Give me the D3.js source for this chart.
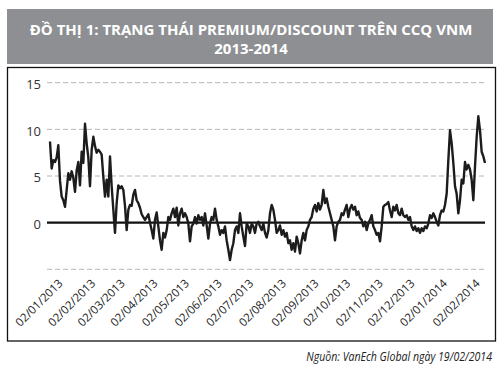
<!DOCTYPE html>
<html>
<head>
<meta charset="utf-8">
<script src="https://cdn.jsdelivr.net/npm/d3@7"></script>
<style>
  body { margin: 0; background: #fff; }
</style>
</head>
<body>
<div id="chart"></div>
<script>
const titleLines = ["ĐỒ THỊ 1: TRẠNG THÁI PREMIUM/DISCOUNT TRÊN CCQ VNM", "2013-2014"];
const sourceNote = "Nguồn: VanEch Global ngày 19/02/2014";

// first and last observation of the series
const firstDay = "2013-01-02";
const lastDay = "2014-02-19";

const yTicks = [-5, 0, 5, 10, 15];
const xTickDates = ["2013-01-02", "2013-02-02", "2013-03-02", "2013-04-02", "2013-05-02",
  "2013-06-02", "2013-07-02", "2013-08-02", "2013-09-02", "2013-10-02", "2013-11-02",
  "2013-12-02", "2014-01-02", "2014-02-02"];

const premium = [
  8.7, 5.8, 6.7, 6.5, 7.0, 8.3, 4.5, 2.8, 2.4, 1.7,
  3.5, 5.3, 4.6, 5.5, 4.8, 3.3, 5.6, 6.5, 4.0, 7.6,
  6.4, 10.6, 8.5, 7.0, 3.9, 7.8, 9.2, 8.2, 7.5, 7.8,
  7.6, 7.3, 4.9, 2.8, 4.6, 2.8, 7.1, 3.9, 1.4, -1.1,
  2.1, 4.0, 3.7, 3.9, 3.5, 1.8, -0.8, 1.4, 1.9, 1.8,
  3.0, 3.5, 2.4, 2.1, 1.6, 0.9, 0.6, 0.3, 0.6, 0.9,
  0.0, -0.8, -1.7, 0.3, 1.1, -0.4,
  -1.9, -2.9, -1.1, -1.6, -0.8, 0.6, 0.3, 1.0, 1.5, 0.6,
  1.6, -0.3, 1.0, 1.5, 0.6, 1.0, 0.6, -0.1, -2.0, -0.4,
  -0.1, 0.6, -0.1, 0.8, 0.3, 0.6, -0.3, 1.0, -0.3, -1.7,
  -0.1, 0.6, 0.3, 1.5, 0.3, -0.4, -1.3, -0.8, -1.1, -0.4,
  -1.9, -2.9, -4.0, -2.9, -2.2, -0.8, -0.4, -1.1, 1.0, -0.4,
  -1.5, -2.5, -0.1, -0.4, -1.1, -0.1, -0.4, -1.1, -0.1, 0.1,
  -0.4, -0.8, -0.1, -1.1, -1.6, -0.8,
  1.0, 1.9, 1.4, 0.3, -1.1, -0.8, -0.3, -1.3, -0.8, -1.5,
  -1.1, -2.2, -1.9, -2.9, -2.2, -3.1, -1.5, -2.2, -3.3, -1.9,
  -1.1, -1.9, -0.8, -0.4, 0.3, 0.6, 1.5, 1.9, 1.2, 2.1,
  1.4, 1.9, 3.5, 2.1, 2.6, 1.7, 1.0, 0.3, -0.4, -1.9,
  -0.4, 0.1, 0.3, 1.0, 0.8, 1.4, 1.9, 0.6, 1.5, 1.9,
  1.4, 1.7, 0.8, 1.2, 0.5, 0.3, -0.4, 0.1, -0.8, -0.1,
  0.3, 0.8, -0.4, -0.8, -1.3, -1.1,
  -2.0, -0.4, 1.7, 1.9, 2.0, 2.2, 1.3, 0.6, 1.7, 1.3,
  1.9, 1.0, 0.8, 1.5, 0.8, 0.6, 0.8, 0.3, 0.6, -0.4,
  -0.8, -0.4, -0.9, -0.6, -1.1, -0.6, -0.9, -0.4, -0.6, -0.1,
  0.8, 0.5, 1.0, 0.6, 0.1, -0.3, 0.8, 1.3, 1.2, 1.9,
  3.1, 6.7, 9.9, 8.5, 6.4, 3.9, 3.1, 1.0, 2.4, 4.6,
  4.2, 6.5, 5.7, 6.2, 5.7, 4.6, 2.4, 6.0, 9.2, 11.4,
  9.9, 7.6, 7.1, 6.4
];

const width = 504;
const height = 376;
const plot = {left: 50, right: 485, top: 82.7, bottom: 269.3};

const parseDay = d3.timeParse("%Y-%m-%d");
const formatDay = d3.timeFormat("%d/%m/%Y");

const t0 = parseDay(firstDay).getTime();
const t1 = parseDay(lastDay).getTime();
const data = premium.map((v, i) => ({
  date: new Date(t0 + (t1 - t0) * i / (premium.length - 1)),
  value: v
}));

const svg = d3.select("#chart")
  .append("svg")
  .attr("width", width)
  .attr("height", height)
  .style("font-family", "'Open Sans', 'Noto Sans', sans-serif");

// title band
svg.append("rect")
  .attr("x", 7)
  .attr("y", 9)
  .attr("width", 486)
  .attr("height", 55)
  .attr("fill", "#8e8f93");

// squeeze a text horizontally to a target width (condensed look)
const squeeze = (sel, x, y, target) => {
  const w = sel.node().getComputedTextLength();
  const k = Math.min(1, target / w);
  sel.attr("transform", `translate(${x},${y}) scale(${k},1)`);
};

const title1 = svg.append("text")
  .attr("text-anchor", "middle")
  .attr("fill", "#fff")
  .attr("font-weight", 700)
  .attr("font-size", 15)
  .text(titleLines[0]);
squeeze(title1, 251, 34.5, 444);

svg.append("text")
  .attr("x", 251)
  .attr("y", 54)
  .attr("text-anchor", "middle")
  .attr("fill", "#fff")
  .attr("font-weight", 700)
  .attr("font-size", 15)
  .text(titleLines[1]);

// chart frame
svg.append("rect")
  .attr("x", 7.5)
  .attr("y", 67.5)
  .attr("width", 488)
  .attr("height", 273.5)
  .attr("fill", "none")
  .attr("stroke", "#111")
  .attr("stroke-width", 1.3);

const xScale = d3.scaleTime()
  .domain([parseDay(firstDay), parseDay(lastDay)])
  .range([plot.left, plot.right]);

const yScale = d3.scaleLinear()
  .domain([-5, 15])
  .range([plot.bottom, plot.top]);

// gridlines
svg.append("g")
  .selectAll("line")
  .data(yTicks.filter(d => d !== 0))
  .join("line")
  .attr("x1", 47)
  .attr("x2", plot.right)
  .attr("y1", d => yScale(d))
  .attr("y2", d => yScale(d))
  .attr("stroke", "#b4b4b4")
  .attr("stroke-width", 1)
  .attr("stroke-dasharray", "5,3");

// y labels (no -5 label in the original)
const yAxis = d3.axisLeft(yScale)
  .tickValues(yTicks.filter(d => d >= 0))
  .tickSize(0)
  .tickPadding(0);

svg.append("g")
  .attr("class", "y-axis")
  .attr("transform", "translate(41,1.5)")
  .call(yAxis)
  .call(g => g.select(".domain").remove())
  .call(g => g.selectAll("text")
    .attr("font-family", "'Open Sans', sans-serif")
    .attr("font-size", 13)
    .attr("fill", "#333"));

// x labels
const xAxis = d3.axisBottom(xScale)
  .tickValues(xTickDates.map(parseDay))
  .tickFormat(formatDay)
  .tickSize(0);

svg.append("g")
  .attr("class", "x-axis")
  .attr("transform", "translate(0,275)")
  .call(xAxis)
  .call(g => g.select(".domain").remove())
  .call(g => g.selectAll("text")
    .attr("font-family", "'Open Sans', sans-serif")
    .attr("font-size", 11.5)
    .attr("fill", "#222")
    .attr("text-anchor", "end")
    .attr("dy", 0)
    .attr("y", 0)
    .attr("transform", "translate(13,9) rotate(-45)"));

// zero line
svg.append("line")
  .attr("x1", 47)
  .attr("x2", plot.right)
  .attr("y1", yScale(0))
  .attr("y2", yScale(0))
  .attr("stroke", "#111")
  .attr("stroke-width", 2.4);

const line = d3.line()
  .x(d => xScale(d.date))
  .y(d => yScale(d.value));

svg.append("path")
  .datum(data)
  .attr("fill", "none")
  .attr("stroke", "#1c1c1c")
  .attr("stroke-width", 2.4)
  .attr("stroke-linejoin", "round")
  .attr("d", line);

// source note
const note = svg.append("text")
  .attr("text-anchor", "end")
  .attr("font-family", "'Liberation Sans Narrow', 'Open Sans', sans-serif")
  .attr("font-style", "italic")
  .attr("font-size", 12.5)
  .attr("fill", "#222")
  .text(sourceNote);
squeeze(note, 492, 361, 186);
</script>
</body>
</html>
